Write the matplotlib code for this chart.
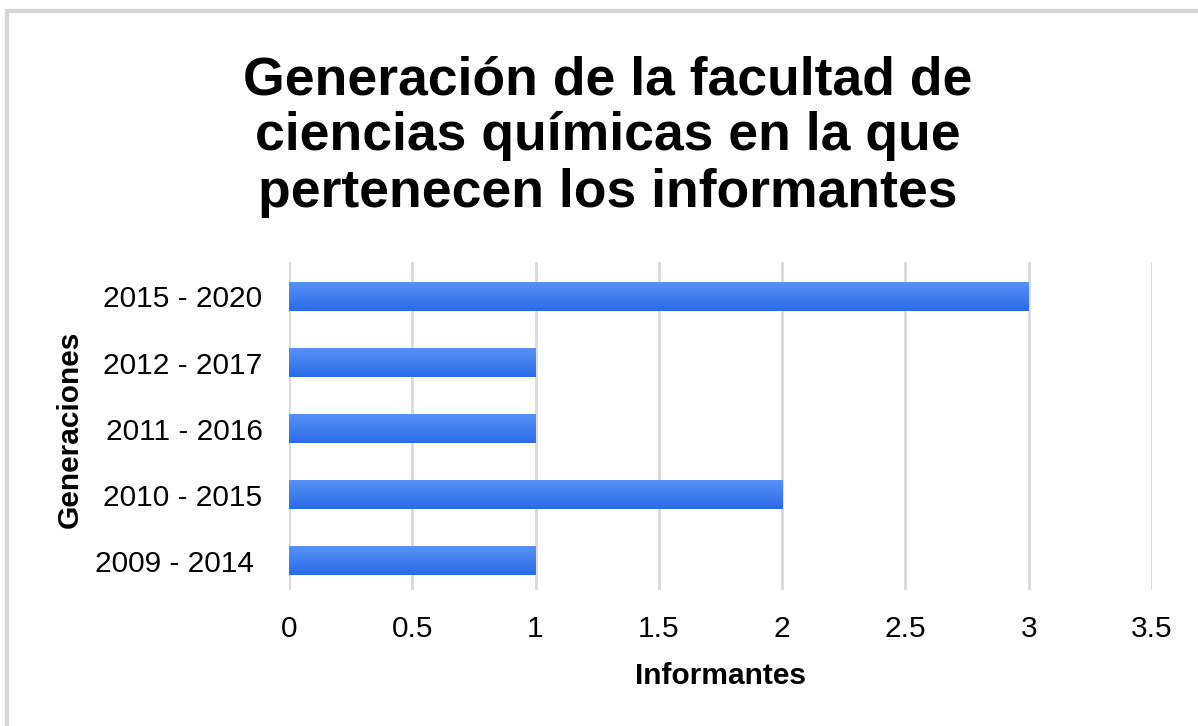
import matplotlib.pyplot as plt
import numpy as np
from matplotlib.patches import Rectangle
from matplotlib.colors import LinearSegmentedColormap

generaciones = ['2009 - 2014 ', '2010 - 2015', '2011 - 2016', '2012 - 2017', '2015 - 2020']
informantes = [1, 2, 1, 1, 3]
x_ticks = [0, 0.5, 1, 1.5, 2, 2.5, 3, 3.5]
x_tick_labels = ['0', '0.5', '1', '1.5', '2', '2.5', '3', '3.5']

plt.rcParams['font.family'] = ['Liberation Sans', 'DejaVu Sans']

def plot_data():
    fig = plt.figure(figsize=(11.98, 7.26), dpi=100)
    ax = fig.add_axes([0.2412, 0.1873, 0.7204, 0.4518])

    y_pos = np.arange(len(generaciones))
    bars = ax.barh(y_pos, informantes, height=0.44, color='#3b7ef0', zorder=2)

    # gradient fill, lighter on top
    cmap = LinearSegmentedColormap.from_list('blu', ['#2a6be6', '#5a92f7'])
    grad = np.linspace(0, 1, 100).reshape(-1, 1)
    for b in bars:
        x0, y0 = b.get_x(), b.get_y()
        w, h = b.get_width(), b.get_height()
        im = ax.imshow(grad, cmap=cmap, aspect='auto', origin='lower',
                       extent=[x0, x0 + w, y0, y0 + h], zorder=3)
        im.set_clip_path(b)

    ax.set_xlim(0, 3.5)
    ax.set_ylim(-0.44, 4.52)
    ax.set_xticks(x_ticks)
    ax.set_xticklabels(x_tick_labels)
    ax.set_yticks(y_pos)
    ax.set_yticklabels(generaciones)
    ax.tick_params(axis='both', length=0, labelsize=21.5)
    ax.tick_params(axis='y', pad=19)
    ax.tick_params(axis='x', pad=18)
    ax.grid(axis='x', color='#d9d9d9', linewidth=2, zorder=1)
    ax.set_axisbelow(True)
    for s in ax.spines.values():
        s.set_visible(False)

    ax.set_xlabel('Informantes', fontsize=21.5, fontweight='bold', labelpad=14)
    fig.text(0.058, 0.408, 'Generaciones', rotation=90, fontsize=21.5,
             fontweight='bold', ha='center', va='center')

    fig.text(0.507, 0.812, 'Generación de la facultad de\nciencias químicas en la que\npertenecen los informantes',
             ha='center', va='center', fontsize=38.5, fontweight='bold',
             linespacing=1.16)

    # light frame around the chart
    fig.patches.append(Rectangle((7 / 1198, -0.1), 1.2, (726 - 11) / 726 + 0.1,
                                 transform=fig.transFigure, fill=False,
                                 edgecolor='#d6d6d6', linewidth=3))

    fig.savefig('out.png', dpi=100)

def main():
    plot_data()


if __name__ == "__main__":
    main()
